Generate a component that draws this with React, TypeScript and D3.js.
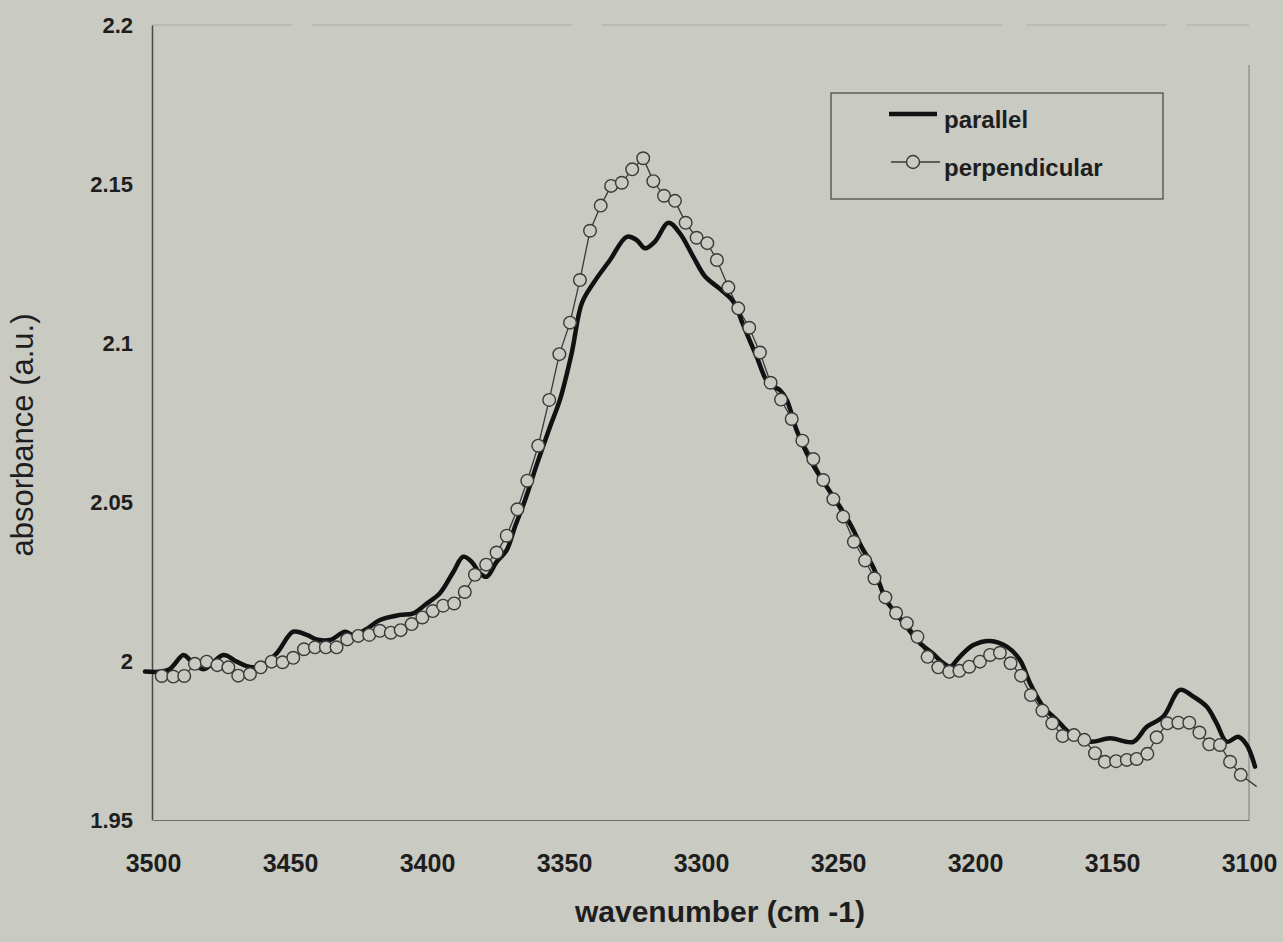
import React, { useEffect, useRef } from 'react';
import * as d3 from 'd3';

// perpendicular polarisation (open circles)
const perpWavenumber = [
  3496.8, 3492.6, 3488.6, 3484.7, 3480.4, 3476.5, 3472.5, 3468.9, 3464.6, 3460.7,
  3456.7, 3452.7, 3448.8, 3444.9, 3440.9, 3436.9, 3433.0, 3429.1, 3425.1, 3421.1,
  3417.2, 3413.2, 3409.6, 3405.6, 3401.7, 3397.9, 3394.1, 3390.1, 3386.2, 3382.5,
  3378.4, 3374.6, 3370.9, 3367.0, 3363.4, 3359.4, 3355.4, 3351.7, 3347.8, 3344.2,
  3340.5, 3336.6, 3332.8, 3328.9, 3325.1, 3321.1, 3317.4, 3313.5, 3309.5, 3305.6,
  3301.6, 3297.7, 3294.2, 3290.0, 3286.4, 3282.4, 3278.5, 3274.6, 3270.8, 3266.9,
  3263.0, 3259.0, 3255.4, 3251.7, 3248.1, 3244.2, 3240.1, 3236.7, 3232.7, 3228.8,
  3224.9, 3221.0, 3217.3, 3213.4, 3209.4, 3205.7, 3202.1, 3198.2, 3194.5, 3190.9,
  3187.0, 3183.2, 3179.6, 3175.4, 3171.8, 3168.0, 3163.9, 3160.1, 3156.2, 3152.6,
  3148.5, 3144.6, 3141.0, 3137.1, 3133.7, 3129.8, 3125.8, 3121.8, 3118.1, 3114.5,
  3110.6, 3106.9, 3103.0, 3097.2,
];
const perpAbsorbance = [
  1.9953, 1.9951, 1.9953, 1.9991, 1.9998, 1.9987, 1.998, 1.9954, 1.9959, 1.998,
  1.9998, 1.9996, 2.001, 2.0037, 2.0043, 2.0043, 2.0043, 2.0068, 2.0079, 2.0082,
  2.0095, 2.0089, 2.0097, 2.0116, 2.0137, 2.0157, 2.0174, 2.0181, 2.0217, 2.0271,
  2.0303, 2.0341, 2.0394, 2.0477, 2.0567, 2.0677, 2.0821, 2.0965, 2.1064, 2.1198,
  2.1353, 2.1432, 2.1494, 2.1504, 2.1546, 2.1581, 2.1509, 2.1463, 2.1447, 2.1378,
  2.1331, 2.1314, 2.1261, 2.1175, 2.1109, 2.1048, 2.097, 2.0875, 2.0822, 2.0761,
  2.0693, 2.0635, 2.0569, 2.0509, 2.0454, 2.0375, 2.0316, 2.026, 2.02, 2.0151,
  2.0119, 2.0076, 2.0013, 1.998, 1.9966, 1.9969, 1.9982, 1.9998, 2.0019, 2.0026,
  1.9993, 1.9954, 1.9893, 1.9844, 1.9804, 1.9764, 1.9767, 1.9752, 1.971, 1.9683,
  1.9685, 1.9689, 1.9692, 1.9708, 1.976, 1.9804, 1.9806, 1.9806, 1.9775, 1.9738,
  1.9736, 1.9683, 1.9642, 1.9605,
];

// parallel polarisation (thick line)
const parWavenumber = [
  3502.9, 3494.4, 3488.9, 3486.5, 3481.6, 3474.3, 3469.5, 3465.8, 3461.0, 3454.9,
  3448.8, 3443.9, 3440.3, 3435.4, 3429.9, 3426.9, 3422.0, 3417.2, 3409.9, 3405.0,
  3400.1, 3395.3, 3390.4, 3386.8, 3383.7, 3380.7, 3378.2, 3374.6, 3370.9, 3367.9,
  3364.2, 3360.0, 3355.1, 3351.5, 3347.2, 3343.5, 3339.3, 3333.2, 3327.1, 3323.5,
  3320.4, 3316.8, 3311.9, 3307.7, 3302.8, 3298.5, 3293.1, 3288.2, 3284.6, 3279.7,
  3275.4, 3271.2, 3268.7, 3265.1, 3261.4, 3258.4, 3254.1, 3249.3, 3245.0, 3241.4,
  3237.1, 3232.5, 3229.8, 3224.9, 3220.1, 3215.2, 3211.7, 3209.1, 3205.5, 3200.6,
  3194.5, 3188.4, 3183.6, 3179.9, 3175.1, 3170.2, 3165.3, 3158.0, 3150.7, 3142.2,
  3137.3, 3131.3, 3125.2, 3120.3, 3115.4, 3111.8, 3108.1, 3103.9, 3100.8, 3097.8,
];
const parAbsorbance = [
  1.9967, 1.9972, 2.0019, 2.0003, 1.9974, 2.0019, 1.9998, 1.9984, 1.9982, 2.0024,
  2.0092, 2.0082, 2.0068, 2.0066, 2.0092, 2.0082, 2.0101, 2.0129, 2.0145, 2.015,
  2.0181, 2.0213, 2.028, 2.0328, 2.0312, 2.0276, 2.0265, 2.0312, 2.0349, 2.0422,
  2.0506, 2.0616, 2.0737, 2.0821, 2.0968, 2.1125, 2.1188, 2.1261, 2.1334, 2.1324,
  2.1298, 2.1319, 2.1378, 2.1345, 2.1271, 2.1209, 2.117, 2.113, 2.1057, 2.0957,
  2.0873, 2.0852, 2.0821, 2.0726, 2.0653, 2.0606, 2.0548, 2.0485, 2.0422, 2.0359,
  2.0294, 2.0192, 2.016, 2.0107, 2.0056, 2.0022, 1.9994, 1.9982, 2.0014, 2.005,
  2.0063, 2.0045, 2.0003, 1.993, 1.9856, 1.9815, 1.9773, 1.9746, 1.9757, 1.9746,
  1.9793, 1.9825, 1.9909, 1.9888, 1.9856, 1.9804, 1.9746, 1.9762, 1.9736, 1.9668,
];

const xTicks = [3500, 3450, 3400, 3350, 3300, 3250, 3200, 3150, 3100];
const yTicks = [1.95, 2, 2.05, 2.1, 2.15, 2.2];
const seriesNames = ['parallel', 'perpendicular'];

const W = 1283;
const H = 942;
const BG = '#c9cac2';
const FONT = '"Liberation Sans", Arial, sans-serif';

const App: React.FC = () => {
  const svgRef = useRef<SVGSVGElement>(null);

  useEffect(() => {
    if (!svgRef.current) return;
    const svg = d3.select(svgRef.current);
    svg.selectAll('*').remove();

    const left = 152;
    const right = 1249;
    const top = 25;
    const bottom = 820;

    const x = d3.scaleLinear().domain([3500, 3100]).range([153, 1249]);
    const y = d3.scaleLinear().domain([1.95, 2.2]).range([bottom, top]);

    svg.append('rect').attr('width', W).attr('height', H).attr('fill', BG);

    // frame: faint top/right, darker left/bottom
    svg.append('line')
      .attr('x1', left).attr('x2', right).attr('y1', top).attr('y2', top)
      .attr('stroke', '#b6b7af').attr('stroke-width', 1.5)
      .attr('stroke-dasharray', '140,20,260,30,400,25');
    svg.append('line')
      .attr('x1', right).attr('x2', right).attr('y1', top + 40).attr('y2', bottom)
      .attr('stroke', '#8a8a85').attr('stroke-width', 1.2);

    // Y axis
    const yAxis = svg.append('g')
      .attr('transform', `translate(${left},0)`)
      .call(d3.axisLeft(y).tickValues(yTicks).tickSize(0).tickSizeOuter(0).tickPadding(19)
        .tickFormat(d => d3.format('')(d as number)));
    yAxis.select('.domain').attr('stroke', '#4a4a4a').attr('stroke-width', 1.5);
    yAxis.selectAll('text')
      .style('font-family', FONT).style('font-size', '22px').style('font-weight', 'bold')
      .style('fill', '#1e1e1e');

    // X axis
    const xAxis = svg.append('g')
      .attr('transform', `translate(0,${bottom})`)
      .call(d3.axisBottom(x).tickValues(xTicks).tickSize(0).tickSizeOuter(0).tickPadding(34)
        .tickFormat(d => String(d)));
    xAxis.select('.domain').attr('stroke', '#6a6a66').attr('stroke-width', 1.2);
    xAxis.selectAll('text')
      .style('font-family', FONT).style('font-size', '25px').style('font-weight', 'bold')
      .style('fill', '#1e1e1e');

    // axis titles
    svg.append('text')
      .attr('x', 720).attr('y', 922)
      .attr('text-anchor', 'middle')
      .style('font-family', FONT).style('font-size', '30px').style('font-weight', 'bold')
      .style('fill', '#1e1e1e')
      .text('wavenumber (cm -1)');

    svg.append('text')
      .attr('transform', 'translate(33,435) rotate(-90)')
      .attr('text-anchor', 'middle')
      .style('font-family', FONT).style('font-size', '31px')
      .style('fill', '#1e1e1e')
      .text('absorbance (a.u.)');

    // perpendicular: thin line + open circles
    const perp = perpWavenumber.map((w, i) => ({ w, a: perpAbsorbance[i] }));
    const thinLine = d3.line<{ w: number; a: number }>()
      .x(d => x(d.w)).y(d => y(d.a));
    svg.append('path')
      .datum(perp)
      .attr('fill', 'none').attr('stroke', '#3a3a3a').attr('stroke-width', 1.3)
      .attr('d', thinLine);

    // parallel: thick smooth line
    const par = parWavenumber.map((w, i) => ({ w, a: parAbsorbance[i] }));
    const thickLine = d3.line<{ w: number; a: number }>()
      .x(d => x(d.w)).y(d => y(d.a))
      .curve(d3.curveCatmullRom.alpha(0.5));
    svg.append('path')
      .datum(par)
      .attr('fill', 'none').attr('stroke', '#111').attr('stroke-width', 4.5)
      .attr('stroke-linejoin', 'round').attr('stroke-linecap', 'round')
      .attr('d', thickLine);

    svg.append('g')
      .selectAll('circle')
      .data(perp.filter(d => d.w >= 3100))
      .join('circle')
      .attr('cx', d => x(d.w))
      .attr('cy', d => y(d.a))
      .attr('r', 6.3)
      .attr('fill', BG)
      .attr('stroke', '#3a3a3a')
      .attr('stroke-width', 1.4);

    // legend
    const lg = svg.append('g');
    lg.append('rect')
      .attr('x', 831).attr('y', 93).attr('width', 332).attr('height', 106)
      .attr('fill', 'none').attr('stroke', '#444').attr('stroke-width', 1.2);

    lg.append('line')
      .attr('x1', 889).attr('x2', 937).attr('y1', 114).attr('y2', 114)
      .attr('stroke', '#111').attr('stroke-width', 4.5);
    lg.append('text')
      .attr('x', 944).attr('y', 128)
      .style('font-family', FONT).style('font-size', '24px').style('font-weight', 'bold')
      .style('fill', '#1e1e1e')
      .text(seriesNames[0]);

    lg.append('line')
      .attr('x1', 891).attr('x2', 940).attr('y1', 162).attr('y2', 162)
      .attr('stroke', '#3a3a3a').attr('stroke-width', 1.3);
    lg.append('circle')
      .attr('cx', 913).attr('cy', 162).attr('r', 6.5)
      .attr('fill', BG).attr('stroke', '#3a3a3a').attr('stroke-width', 1.4);
    lg.append('text')
      .attr('x', 944).attr('y', 176)
      .style('font-family', FONT).style('font-size', '24px').style('font-weight', 'bold')
      .style('fill', '#1e1e1e')
      .text(seriesNames[1]);
  }, []);

  return (
    <svg
      ref={svgRef}
      width={W}
      height={H}
      style={{ position: 'absolute', left: 0, top: 0, display: 'block' }}
    />
  );
};

export default App;
